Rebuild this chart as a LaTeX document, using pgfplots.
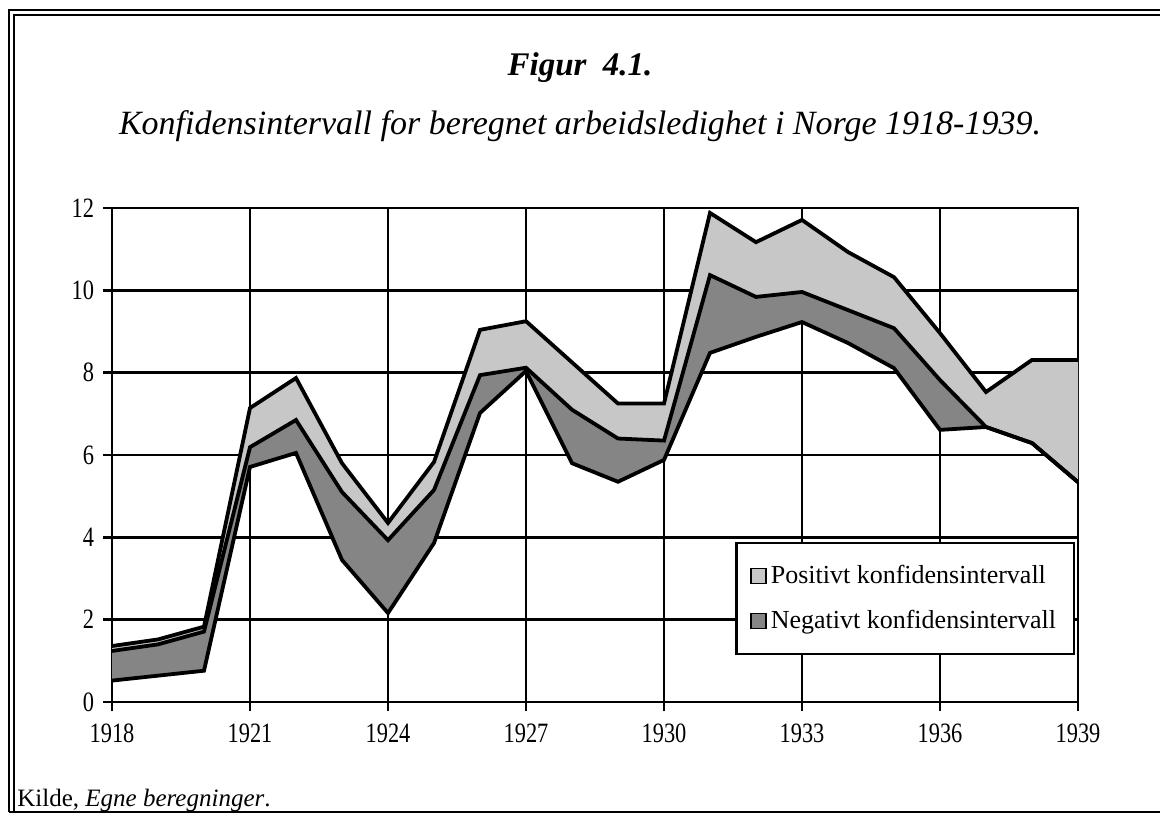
\documentclass[border=0pt]{standalone}
\usepackage{fontspec}
\setmainfont{Liberation Serif}
\newfontfamily\condfont{Liberation Serif}[FakeStretch=0.8]
\usepackage{pgfplots}
\usepackage{pgfplotstable}
\pgfplotsset{compat=1.18}
\definecolor{lightband}{gray}{0.78}
\definecolor{darkband}{gray}{0.52}
\pgfplotstableread{
year upper middle lower
1918 1.36 1.24 0.52
1919 1.52 1.40 0.64
1920 1.83 1.71 0.76
1921 7.14 6.19 5.71
1922 7.87 6.85 6.05
1923 5.80 5.10 3.45
1924 4.35 3.93 2.16
1925 5.83 5.15 3.86
1926 9.04 7.94 7.02
1927 9.25 8.12 8.04
1928 8.25 7.10 5.80
1929 7.25 6.40 5.35
1930 7.25 6.35 5.88
1931 11.88 10.37 8.48
1932 11.17 9.84 8.87
1933 11.71 9.96 9.23
1934 10.93 9.52 8.72
1935 10.32 9.08 8.11
1936 8.96 7.82 6.61
1937 7.53 6.68 6.68
1938 8.31 6.29 6.29
1939 8.31 5.34 5.34
}\datatable
\begin{document}
\begin{tikzpicture}
\useasboundingbox (0,0) rectangle (580pt,407pt);
% frame
\draw[line width=1.3pt] (4.5pt,1pt) -- (4.5pt,402pt) -- (580pt,402pt);
\draw[line width=0.8pt] (7pt,1pt) -- (7pt,399.5pt) -- (580pt,399.5pt);
\draw[line width=0.8pt] (4.5pt,1pt) -- (580pt,1pt);
% titles
\node[font=\fontsize{16.5}{19}\selectfont\bfseries\itshape] at (290pt,373pt) {Figur\enspace 4.1.};
\node[font=\fontsize{17}{20}\selectfont\itshape] at (290pt,344pt) {Konfidensintervall for beregnet arbeidsledighet i Norge 1918-1939.};
\node[anchor=base west, inner sep=0pt, font=\fontsize{12.5}{14}\selectfont] at (8.5pt,4pt) {Kilde, \textit{Egne beregninger}.};
\begin{axis}[
  at={(56pt,56pt)}, anchor=south west,
  width=483pt, height=247pt, scale only axis,
  xmin=1918, xmax=1939, ymin=0, ymax=12,
  xtick={1918,1921,1924,1927,1930,1933,1936,1939}, ytick={0,2,4,6,8,10,12},
  xtick pos=bottom, ytick pos=left,
  grid=major,
  major grid style={black, line width=1.3pt},
  axis line style={black, line width=1.3pt},
  tick style={black, line width=1.3pt},
  tick align=outside, major tick length=4.5pt,
  /pgf/number format/assume math mode=true,
  /pgf/number format/1000 sep={},
  tick label style={font=\condfont\fontsize{14}{16}\selectfont},
  yticklabel style={xshift=-1pt},
  xticklabel style={yshift=-3pt},
  legend style={
    at={(0.997,0.095)}, anchor=south east,
    draw=black, line width=1.1pt,
    font=\fontsize{13}{15}\selectfont,
    inner xsep=7pt, inner ysep=9pt, row sep=8pt,
    cells={anchor=west},
  },
  legend cell align=left,
  legend image code/.code={
    \draw[#1, draw=black, line width=0.7pt] (0pt,-3.6pt) rectangle (7.5pt,3.9pt);
  },
]
\addplot[fill=lightband, draw=none] coordinates {
 (1918,1.36) (1919,1.52) (1920,1.83) (1921,7.14) (1922,7.87) (1923,5.80) (1924,4.35) (1925,5.83) (1926,9.04) (1927,9.25) (1928,8.25) (1929,7.25) (1930,7.25) (1931,11.88) (1932,11.17) (1933,11.71) (1934,10.93) (1935,10.32) (1936,8.96) (1937,7.53) (1938,8.31) (1939,8.31)
 (1939,5.34) (1938,6.29) (1937,6.68) (1936,7.82) (1935,9.08) (1934,9.52) (1933,9.96) (1932,9.84) (1931,10.37) (1930,6.35) (1929,6.40) (1928,7.10) (1927,8.12) (1926,7.94) (1925,5.15) (1924,3.93) (1923,5.10) (1922,6.85) (1921,6.19) (1920,1.71) (1919,1.40) (1918,1.24)
} --cycle;
\addlegendentry{Positivt konfidensintervall}
\addplot[fill=darkband, draw=none] coordinates {
 (1918,1.24) (1919,1.40) (1920,1.71) (1921,6.19) (1922,6.85) (1923,5.10) (1924,3.93) (1925,5.15) (1926,7.94) (1927,8.12) (1928,7.10) (1929,6.40) (1930,6.35) (1931,10.37) (1932,9.84) (1933,9.96) (1934,9.52) (1935,9.08) (1936,7.82) (1937,6.68)
 (1937,6.68) (1936,6.61) (1935,8.11) (1934,8.72) (1933,9.23) (1932,8.87) (1931,8.48) (1930,5.88) (1929,5.35) (1928,5.80) (1927,8.04) (1926,7.02) (1925,3.86) (1924,2.16) (1923,3.45) (1922,6.05) (1921,5.71) (1920,0.76) (1919,0.64) (1918,0.52)
} --cycle;
\addlegendentry{Negativt konfidensintervall}
\addplot[black, line width=1.9pt, forget plot] table[x=year, y=upper] {\datatable};
\addplot[black, line width=1.9pt, forget plot] table[x=year, y=middle] {\datatable};
\addplot[black, line width=1.9pt, forget plot] table[x=year, y=lower] {\datatable};
\end{axis}
\end{tikzpicture}
\end{document}
